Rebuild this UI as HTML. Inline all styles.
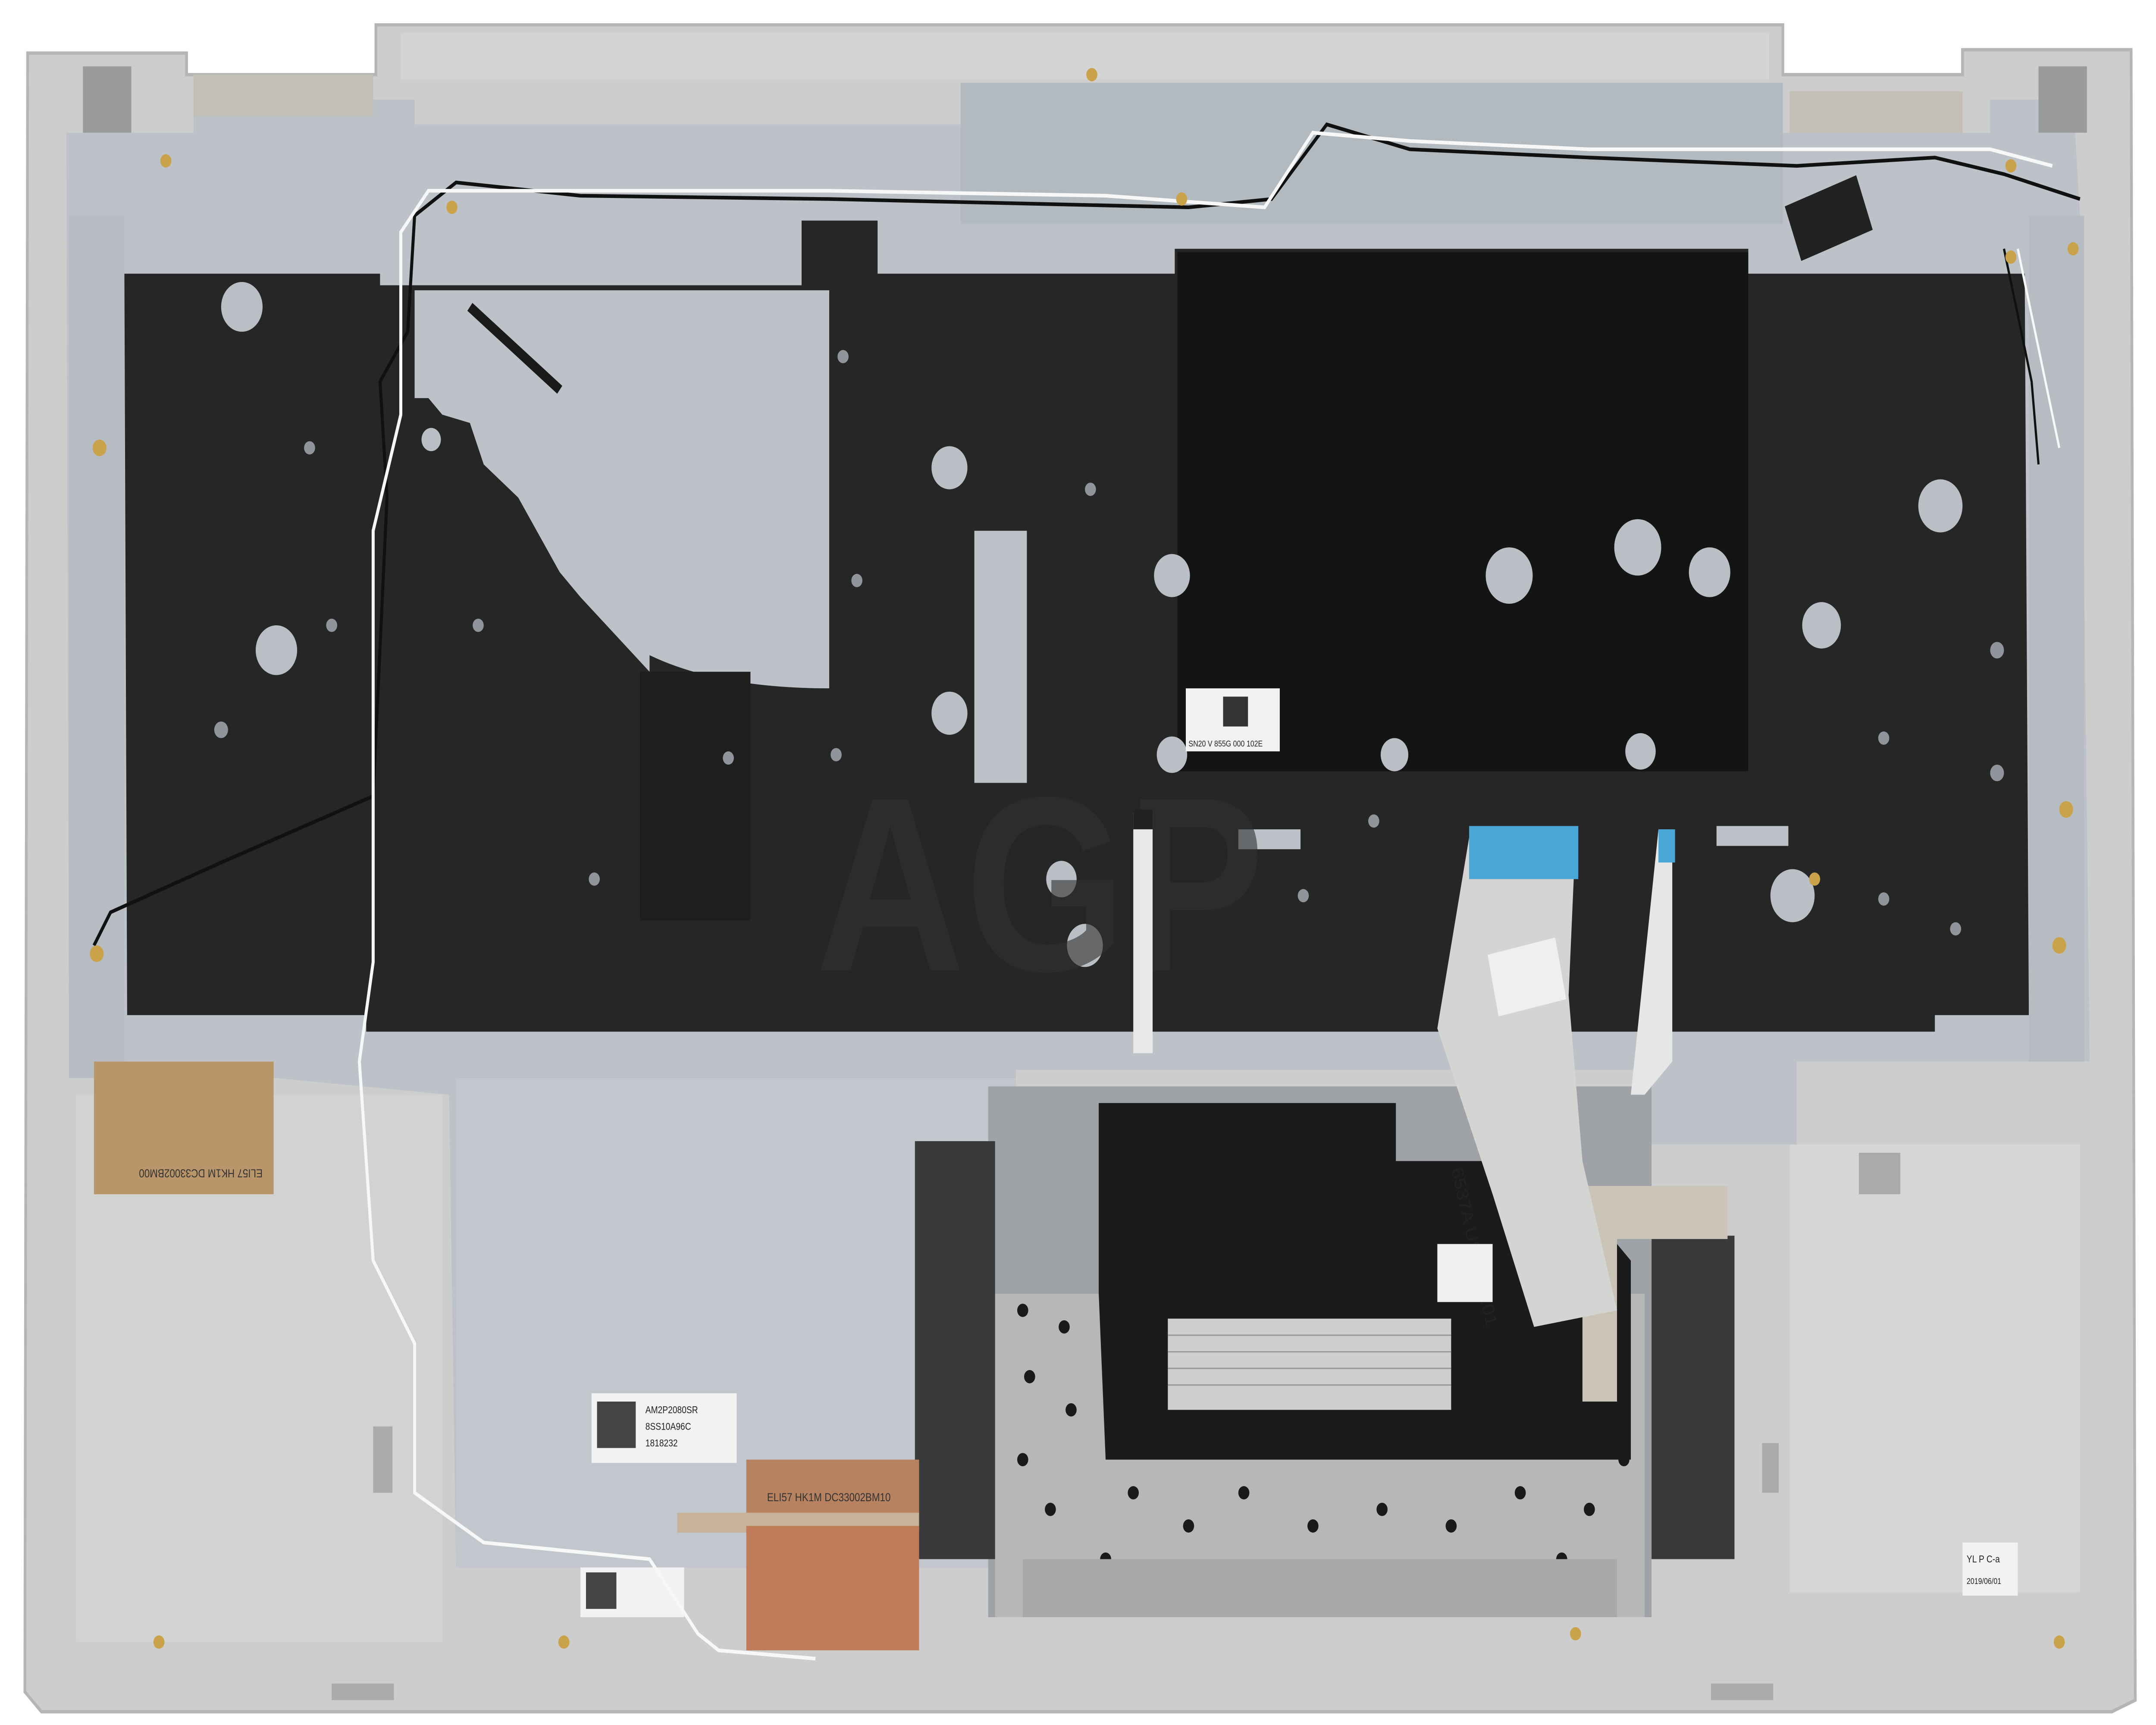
<!DOCTYPE html>
<html><head><meta charset="utf-8"><style>
html,body{margin:0;padding:0;background:#fff;width:100%;height:100%;overflow:hidden;}
svg{display:block;position:fixed;left:0;top:0;width:100vw;height:100vh;}
text{font-family:"Liberation Sans",sans-serif;}
</style></head><body>
<svg viewBox="0 0 1560 1040" preserveAspectRatio="none" xmlns="http://www.w3.org/2000/svg">
<rect width="1560" height="1040" fill="#ffffff"/>
<path d="M20 32 L135 32 L135 45 L272 45 L272 15 L1290 15 L1290 45 L1420 45 L1420 30 L1542 30 L1545 1025 L1528 1032 L30 1032 L18 1020 Z" fill="#cdcdcd" stroke="#b5b5b5" stroke-width="2"/>
<path d="M290 20 L1280 20 L1280 48 L290 48 Z" fill="#d4d4d4"/>
<path d="M48 80 L140 80 L140 60 L300 60 L300 75 L695 75 L695 50 L1290 50 L1290 80 L1440 80 L1440 60 L1500 60 L1505 130 L1512 640 L1300 640 L1300 690 L1195 690 L1195 645 L735 645 L735 945 L330 945 L325 660 L200 650 L50 650 Z" fill="#bcc2c7"/>
<path d="M695 50 L1290 50 L1290 135 L695 135 Z" fill="#b3babf"/>
<path d="M55 660 L320 660 L320 990 L55 990 Z" fill="#d2d2d2"/>
<path d="M1295 690 L1505 690 L1505 960 L1295 960 Z" fill="#d6d6d6"/>
<path d="M330 650 L735 650 L735 945 L330 945 Z" fill="#c1c7cc"/>
<path d="M90 165 L275 165 L275 172 L580 172 L580 133 L635 133 L635 165 L850 165 L850 150 L1265 150 L1265 165 L1465 165 L1468 612 L1400 612 L1400 622 L265 622 L265 612 L92 612 Z" fill="#262626"/>
<path d="M852 152 L1265 152 L1265 465 L852 465 Z" fill="#141414"/>
<path d="M300 175 L600 175 L600 415 Q520 415 470 395 L470 405 L420 360 L405 345 L375 300 L350 280 L340 255 L320 250 L310 240 L300 240 Z" fill="#bcc2c7"/>
<rect x="463" y="405" width="80" height="150" fill="#1e1e1e"/>
<rect x="705" y="320" width="38" height="152" fill="#bcc2c7"/>
<rect x="50" y="130" width="40" height="520" fill="#b6bcc1"/>
<rect x="1468" y="130" width="40" height="510" fill="#b6bcc1"/>
<g fill="#b9bfc4">
<circle cx="175" cy="185" r="15"/><circle cx="200" cy="392" r="15"/><circle cx="312" cy="265" r="7"/>
<circle cx="687" cy="282" r="13"/><circle cx="687" cy="430" r="13"/><circle cx="848" cy="347" r="13"/>
<circle cx="1092" cy="347" r="17"/><circle cx="1185" cy="330" r="17"/><circle cx="1237" cy="345" r="15"/>
<circle cx="1318" cy="377" r="14"/><circle cx="1404" cy="305" r="16"/><circle cx="1297" cy="540" r="16"/>
<circle cx="785" cy="570" r="13"/><circle cx="768" cy="530" r="11"/><circle cx="1187" cy="453" r="11"/>
<circle cx="848" cy="455" r="11"/><circle cx="1009" cy="455" r="10"/>
</g>
<g fill="#8f959a">
<circle cx="160" cy="440" r="5"/><circle cx="224" cy="270" r="4"/><circle cx="240" cy="377" r="4"/>
<circle cx="430" cy="530" r="4"/><circle cx="527" cy="457" r="4"/><circle cx="346" cy="377" r="4"/>
<circle cx="605" cy="455" r="4"/><circle cx="620" cy="350" r="4"/><circle cx="789" cy="295" r="4"/>
<circle cx="994" cy="495" r="4"/><circle cx="1118" cy="555" r="4"/><circle cx="1363" cy="445" r="4"/>
<circle cx="1363" cy="542" r="4"/><circle cx="943" cy="540" r="4"/><circle cx="610" cy="215" r="4"/>
<circle cx="1445" cy="392" r="5"/><circle cx="1445" cy="466" r="5"/><circle cx="1415" cy="560" r="4"/>
</g>
<rect x="896" y="500" width="45" height="12" fill="#bcc2c7"/>
<rect x="1242" y="498" width="52" height="12" fill="#bcc2c7"/>
<line x1="340" y1="185" x2="405" y2="235" stroke="#1a1a1a" stroke-width="6"/>
<rect x="858" y="415" width="68" height="38" fill="#f2f2f2"/>
<rect x="885" y="420" width="18" height="18" fill="#333"/>
<text x="860" y="450" font-size="5" fill="#222">SN20 V 855G 000 102E</text>
<text x="590" y="585" font-size="150" font-weight="bold" fill="#303030" opacity="0.6">AGP</text>
<rect x="715" y="655" width="480" height="320" fill="#9fa3a7"/>
<rect x="720" y="780" width="470" height="195" fill="#b7b7b5"/>
<path d="M795 665 L1010 665 L1010 700 L1120 700 L1180 760 L1180 880 L800 880 L795 780 Z" fill="#1b1b1b"/>
<g fill="#1a1a1a">
<circle cx="740" cy="790" r="4"/><circle cx="770" cy="800" r="4"/><circle cx="745" cy="830" r="4"/><circle cx="775" cy="850" r="4"/>
<circle cx="740" cy="880" r="4"/><circle cx="820" cy="900" r="4"/><circle cx="860" cy="920" r="4"/><circle cx="900" cy="900" r="4"/>
<circle cx="950" cy="920" r="4"/><circle cx="1000" cy="910" r="4"/><circle cx="1050" cy="920" r="4"/><circle cx="1100" cy="900" r="4"/>
<circle cx="1150" cy="910" r="4"/><circle cx="1175" cy="880" r="4"/><circle cx="880" cy="945" r="4"/><circle cx="1020" cy="945" r="4"/>
<circle cx="760" cy="910" r="4"/><circle cx="800" cy="940" r="4"/><circle cx="1130" cy="940" r="4"/><circle cx="1160" cy="950" r="4"/>
</g>
<rect x="740" y="940" width="430" height="35" fill="#a9a9a7"/>
<path d="M662 688 L720 688 L720 940 L662 940 Z" fill="#3a3a3a"/>
<path d="M1195 745 L1255 745 L1255 940 L1195 940 Z" fill="#3a3a3a"/>
<rect x="1140" y="715" width="110" height="32" fill="#c9c4b5"/>
<rect x="1145" y="740" width="25" height="105" fill="#c9c4b5"/>
<rect x="845" y="795" width="205" height="55" fill="#cfcfcf"/>
<g stroke="#999" stroke-width="0.8">
<line x1="845" y1="805" x2="1050" y2="805"/><line x1="845" y1="815" x2="1050" y2="815"/><line x1="845" y1="825" x2="1050" y2="825"/><line x1="845" y1="835" x2="1050" y2="835"/>
</g>
<path d="M1063 505 L1140 505 L1135 600 L1145 700 L1170 790 L1110 800 L1080 720 L1040 620 Z" fill="#d4d4d2"/>
<path d="M1063 498 L1142 498 L1142 530 L1063 530 Z" fill="#4aa6d6"/>
<text x="1050" y="705" font-size="12" fill="#222" transform="rotate(75 1050 705)">6537A US VER:01</text>
<rect x="1080" y="570" width="50" height="38" fill="#efefef" transform="rotate(-12 1105 590)"/>
<rect x="1040" y="750" width="40" height="35" fill="#efefef"/>
<rect x="820" y="490" width="14" height="145" fill="#e8e8e8"/>
<rect x="820" y="488" width="14" height="12" fill="#222"/>
<path d="M1200 500 L1210 500 L1210 640 L1190 660 L1180 660 Z" fill="#e6e6e6"/>
<rect x="1200" y="500" width="12" height="20" fill="#4aa6d6"/>
<rect x="68" y="640" width="130" height="80" fill="#b9966a"/>
<text x="0" y="0" font-size="7" fill="#333" transform="translate(190 705) rotate(180)">ELI57 HK1M DC33002BM00</text>
<rect x="540" y="880" width="125" height="40" fill="#b78260"/>
<rect x="490" y="912" width="175" height="12" fill="#c7b29a"/>
<rect x="540" y="920" width="125" height="75" fill="#c07c58"/>
<text x="555" y="905" font-size="7" fill="#333">ELI57 HK1M DC33002BM10</text>
<rect x="428" y="840" width="105" height="42" fill="#f2f2f2"/>
<rect x="432" y="845" width="28" height="28" fill="#444"/>
<text x="467" y="852" font-size="6" fill="#222">AM2P2080SR</text>
<text x="467" y="862" font-size="6" fill="#222">8SS10A96C</text>
<text x="467" y="872" font-size="6" fill="#222">1818232</text>
<rect x="420" y="945" width="75" height="30" fill="#f2f2f2"/>
<rect x="424" y="948" width="22" height="22" fill="#444"/>
<rect x="1420" y="930" width="40" height="32" fill="#f2f2f2"/>
<text x="1423" y="942" font-size="6" fill="#222">YL P C-a</text>
<text x="1423" y="955" font-size="5" fill="#222">2019/06/01</text>
<g fill="#aaa">
<rect x="240" y="1015" width="45" height="10"/><rect x="1238" y="1015" width="45" height="10"/>
<rect x="270" y="860" width="14" height="40"/><rect x="1275" y="870" width="12" height="30"/>
<rect x="1345" y="695" width="30" height="25"/>
</g>
<path d="M1505 120 L1450 105 L1400 95 L1300 100 L1150 95 L1020 90 L960 75 L920 120 L860 125 L600 120 L420 118 L330 110 L300 130 L295 200 L275 230 L280 300 L270 480 L160 520 L80 550 L68 570" fill="none" stroke="#111" stroke-width="2.2"/>
<path d="M1485 100 L1440 90 L1290 90 L1150 90 L1020 85 L950 80 L915 125 L800 118 L600 115 L400 115 L310 115 L290 140 L290 250 L270 320 L270 580 L260 640 L270 760 L300 810 L300 900 L350 930 L470 940 L505 985 L520 995 L590 1000" fill="none" stroke="#f7f7f7" stroke-width="2.2"/>
<path d="M1450 150 L1470 230 L1475 280" fill="none" stroke="#111" stroke-width="1.6"/>
<path d="M1460 150 L1485 250 L1490 270" fill="none" stroke="#f7f7f7" stroke-width="1.6"/>
<rect x="1295" y="115" width="55" height="35" fill="#222" transform="rotate(-20 1320 130)"/>
<rect x="60" y="40" width="35" height="40" fill="#9a9a9a"/><rect x="1475" y="40" width="35" height="40" fill="#9a9a9a"/>
<rect x="140" y="45" width="130" height="25" fill="#c4bfb4"/><rect x="1295" y="55" width="125" height="25" fill="#c4bfb4"/>
<g fill="#c9a24a">
<circle cx="120" cy="97" r="4"/><circle cx="790" cy="45" r="4"/><circle cx="855" cy="120" r="4"/><circle cx="327" cy="125" r="4"/>
<circle cx="1455" cy="100" r="4"/><circle cx="1455" cy="155" r="4"/><circle cx="72" cy="270" r="5"/><circle cx="70" cy="575" r="5"/>
<circle cx="1490" cy="570" r="5"/><circle cx="1495" cy="488" r="5"/><circle cx="115" cy="990" r="4"/><circle cx="408" cy="990" r="4"/>
<circle cx="1490" cy="990" r="4"/><circle cx="1140" cy="985" r="4"/><circle cx="1313" cy="530" r="4"/><circle cx="1500" cy="150" r="4"/>
</g>
</svg>
</body></html>
